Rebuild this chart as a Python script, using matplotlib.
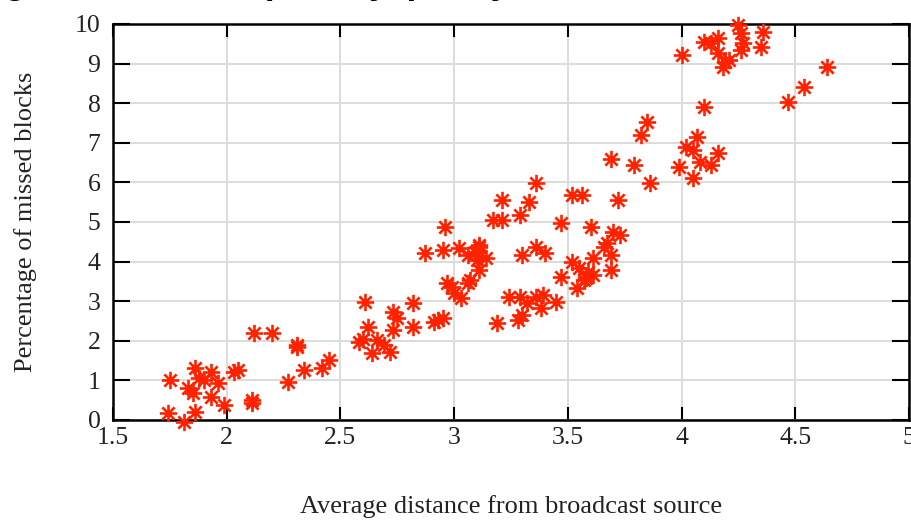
import matplotlib
matplotlib.use("Agg")
import matplotlib.pyplot as plt
from matplotlib.path import Path

# Average hop distance from the broadcast source vs. percentage of missed blocks
distance = [
    1.75, 1.74, 1.81, 1.86, 1.86, 1.83, 1.85, 1.93, 1.90, 1.93, 1.96, 1.99, 1.88,
    2.05, 2.03, 2.11, 2.11, 2.12, 2.20, 2.31, 2.31, 2.27, 2.34, 2.42, 2.45,
    2.61, 2.58, 2.62, 2.64, 2.66, 2.69, 2.72, 2.73, 2.73, 2.75, 2.60,
    2.82, 2.82, 2.91, 2.93, 2.95, 2.87, 2.96, 2.95, 3.02,
    2.97, 2.99, 3.00, 3.03, 3.06, 3.07, 3.06, 3.09, 3.11, 3.10, 3.14, 3.11, 3.11,
    3.17, 3.21, 3.21, 3.29, 3.33, 3.36, 3.30, 3.36, 3.40,
    3.19, 3.24, 3.29, 3.28, 3.30, 3.32, 3.39, 3.38, 3.45, 3.36,
    3.47, 3.47, 3.52, 3.56, 3.52, 3.55, 3.54, 3.58, 3.59, 3.61, 3.57,
    3.60, 3.61, 3.69, 3.69, 3.67, 3.70, 3.73, 3.66, 3.72, 3.86,
    3.82, 3.85, 3.69, 3.79,
    4.02, 4.07, 4.05, 3.99, 4.05, 4.08, 4.13, 4.16,
    4.00, 4.10, 4.16, 4.13, 4.16, 4.19, 4.18, 4.21,
    4.25, 4.26, 4.27, 4.26, 4.36, 4.35,
    4.64, 4.54, 4.47, 4.10,
]
missed_pct = [
    1.01, 0.18, -0.06, 0.20, 1.31, 0.81, 0.68, 1.21, 1.01, 0.58, 0.93, 0.38, 1.05,
    1.26, 1.20, 0.50, 0.43, 2.20, 2.20, 1.90, 1.85, 0.97, 1.26, 1.31, 1.51,
    2.98, 1.97, 2.35, 1.69, 2.02, 1.89, 1.72, 2.27, 2.73, 2.58, 2.05,
    2.95, 2.35, 2.47, 2.52, 2.58, 4.22, 4.87, 4.29, 4.34,
    3.46, 3.37, 3.20, 3.08, 3.46, 3.54, 4.17, 4.24, 4.42, 4.04, 4.09, 3.79, 4.37,
    5.05, 5.05, 5.55, 5.18, 5.50, 5.98, 4.17, 4.37, 4.22,
    2.45, 3.11, 3.11, 2.52, 2.65, 2.95, 3.16, 2.83, 2.98, 3.10,
    4.97, 3.61, 5.68, 5.68, 3.99, 3.84, 3.33, 3.59, 3.74, 3.66, 3.54,
    4.87, 4.09, 3.79, 4.17, 4.47, 4.75, 4.67, 4.37, 5.55, 5.98,
    7.20, 7.53, 6.59, 6.44,
    6.89, 7.15, 6.82, 6.39, 6.11, 6.52, 6.44, 6.74,
    9.22, 9.55, 9.65, 9.52, 9.27, 9.04, 8.91, 9.09,
    9.97, 9.77, 9.52, 9.34, 9.80, 9.42,
    8.91, 8.41, 8.03, 7.90,
]

x_ticks = [1.5, 2, 2.5, 3, 3.5, 4, 4.5, 5]
x_tick_labels = ["1.5", "2", "2.5", "3", "3.5", "4", "4.5", "5"]
y_ticks = list(range(0, 11))
y_tick_labels = [str(v) for v in y_ticks]

x_label = "Average distance from broadcast source"
y_label = "Percentage of missed blocks"
heading = "Missing blocks vs. hop delay, policy"

# gnuplot-style asterisk: plus and cross overlaid
d = 0.7071
star_path = Path(
    [(-1, 0), (1, 0), (0, -1), (0, 1), (-d, -d), (d, d), (-d, d), (d, -d)],
    [Path.MOVETO, Path.LINETO] * 4,
)

fig = plt.figure(figsize=(9.12, 5.21), dpi=100)
ax = fig.add_axes([113 / 912, 101 / 521, 796 / 912, 396 / 521])

ax.plot(distance, missed_pct, linestyle="none", marker=star_path,
        markersize=12.5, markeredgewidth=1.9, color="#ff2200", clip_on=False,
        zorder=3)

ax.set_xlim(1.5, 5)
ax.set_ylim(0, 10)
ax.set_xticks(x_ticks)
ax.set_xticklabels(x_tick_labels)
ax.set_yticks(y_ticks)
ax.set_yticklabels(y_tick_labels)

serif = ["Liberation Serif", "DejaVu Serif"]
for lab in ax.get_xticklabels() + ax.get_yticklabels():
    lab.set_family(serif)
    lab.set_fontsize(18.5)
    lab.set_color("#222222")

ax.tick_params(axis="x", direction="in", length=9.5, width=1.5, pad=5,
               top=True, bottom=True)
ax.tick_params(axis="y", direction="in", length=12, width=1.5, pad=9,
               left=True, right=True)

ax.grid(True, color="#dcdcdc", linewidth=1.4, zorder=0)
ax.set_axisbelow(True)
for sp in ax.spines.values():
    sp.set_linewidth(1.8)
    sp.set_color("black")

ax.set_xlabel(x_label, family=serif, fontsize=19, color="#222222", labelpad=33)
ax.set_ylabel(y_label, family=serif, fontsize=19, color="#222222", labelpad=27)

fig.text(-108 / 912, 1.0135, heading, ha="left", va="baseline",
         family=["Liberation Sans", "DejaVu Sans"], fontweight="bold",
         fontsize=26, color="black")

fig.savefig("out.png", dpi=100)
